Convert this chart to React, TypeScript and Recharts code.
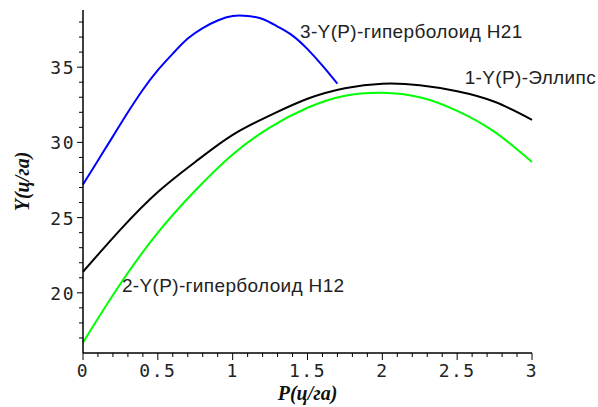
import { LineChart, Line, XAxis, YAxis, ReferenceDot } from "recharts";

const pFull = [0, 0.25, 0.5, 0.75, 1, 1.25, 1.5, 1.75, 2, 2.25, 2.5, 2.75, 3];
const pH21 = [0, 0.1, 0.2, 0.3, 0.4, 0.5, 0.6, 0.7, 0.8, 0.9, 1, 1.1, 1.2, 1.3, 1.4, 1.5, 1.6, 1.7];

// 1 - ellipse
const yEllipse = [21.4, 24.2, 26.7, 28.7, 30.5, 31.8, 32.9, 33.6, 33.9, 33.8, 33.4, 32.7, 31.5];
// 2 - hyperboloid H12
const yH12 = [16.7, 20.6, 24.0, 26.8, 29.2, 31.0, 32.3, 33.1, 33.3, 33.0, 32.1, 30.7, 28.7];
// 3 - hyperboloid H21
const yH21 = [27.2, 28.8, 30.4, 32.0, 33.5, 34.8, 35.9, 36.9, 37.6, 38.1, 38.4, 38.4, 38.2, 37.7, 37.1, 36.2, 35.1, 33.9];

const xTicks = [
  0, 0.1, 0.2, 0.3, 0.4, 0.5, 0.6, 0.7, 0.8, 0.9, 1, 1.1, 1.2, 1.3, 1.4, 1.5,
  1.6, 1.7, 1.8, 1.9, 2, 2.1, 2.2, 2.3, 2.4, 2.5, 2.6, 2.7, 2.8, 2.9, 3,
];
const xMajor = [0, 0.5, 1, 1.5, 2, 2.5, 3];
const yTicks = [17, 18, 19, 20, 21, 22, 23, 24, 25, 26, 27, 28, 29, 30, 31, 32, 33, 34, 35, 36, 37, 38];
const yMajor = [20, 25, 30, 35];

const curveLabels = [
  { text: "3-Y(P)-гиперболоид H21", p: 1.45, y: 37.4 },
  { text: "1-Y(P)-Эллипс", p: 2.55, y: 34.35 },
  { text: "2-Y(P)-гиперболоид H12", p: 0.26, y: 20.5 },
];

const ellipseData = pFull.map((p, i) => ({ p, y: yEllipse[i] }));
const h12Data = pFull.map((p, i) => ({ p, y: yH12[i] }));
const h21Data = pH21.map((p, i) => ({ p, y: yH21[i] }));

const tickFont = "'DejaVu Sans Mono', monospace";
const TICK = 4; // built-in tick line length (minor ticks)

const isMajor = (v: number, list: number[]) => list.some((m) => Math.abs(m - v) < 1e-6);

// x/y here come after the built-in tick line (TICK px outward)
function XTick(props: any) {
  const { x, y, payload } = props;
  if (!isMajor(payload.value, xMajor)) return <g />;
  return (
    <g>
      <path d={`M${x},${y}V${y + 3}`} stroke="#000" strokeWidth={1} fill="none" />
      <text
        x={x}
        y={y + 24 - TICK}
        textAnchor="middle"
        fontSize={18}
        fontFamily={tickFont}
        letterSpacing={1.5}
        fill="#222"
      >
        {payload.value}
      </text>
    </g>
  );
}

function YTick(props: any) {
  const { x, y, payload } = props;
  if (!isMajor(payload.value, yMajor)) return <g />;
  return (
    <g>
      <path d={`M${x - 2},${y}H${x}`} stroke="#000" strokeWidth={1} fill="none" />
      <text
        x={x - 8 + TICK}
        y={y + 7}
        textAnchor="end"
        fontSize={18}
        fontFamily={tickFont}
        letterSpacing={1.5}
        fill="#222"
      >
        {payload.value}
      </text>
    </g>
  );
}

export default function App() {
  return (
    <div style={{ position: "absolute", left: 0, top: 0, width: 598, height: 407, background: "#fff" }}>
      <LineChart width={598} height={407} margin={{ top: 10, right: 66, bottom: 0, left: 0 }}>
        <XAxis
          type="number"
          dataKey="p"
          domain={[0, 3]}
          ticks={xTicks}
          interval={0}
          tickSize={TICK}
          tickMargin={0}
          tickLine={{ stroke: "#000", strokeWidth: 1 }}
          tick={(p: any) => <XTick {...p} />}
          height={54}
          axisLine={{ stroke: "#000", strokeWidth: 1.5 }}
          label={{
            value: "P(ц/га)",
            position: "insideBottom",
            offset: 7,
            style: {
              fontFamily: "'Liberation Serif', serif",
              fontWeight: "bold",
              fontStyle: "italic",
              fontSize: 20,
              fill: "#111",
            },
          }}
        />
        <YAxis
          type="number"
          dataKey="y"
          domain={[16, 38.8]}
          ticks={yTicks}
          interval={0}
          tickSize={TICK}
          tickMargin={0}
          tickLine={{ stroke: "#000", strokeWidth: 1 }}
          tick={(p: any) => <YTick {...p} />}
          width={83}
          allowDataOverflow
          axisLine={{ stroke: "#000", strokeWidth: 1.5 }}
          label={{
            value: "Y(ц/га)",
            angle: -90,
            position: "insideLeft",
            offset: 22,
            style: {
              textAnchor: "middle",
              fontFamily: "'Liberation Serif', serif",
              fontWeight: "bold",
              fontStyle: "italic",
              fontSize: 20,
              fill: "#111",
            },
          }}
        />
        <Line
          data={h21Data}
          dataKey="y"
          type="natural"
          stroke="#0000ff"
          strokeWidth={2}
          dot={false}
          isAnimationActive={false}
        />
        <Line
          data={ellipseData}
          dataKey="y"
          type="natural"
          stroke="#000000"
          strokeWidth={2}
          dot={false}
          isAnimationActive={false}
        />
        <Line
          data={h12Data}
          dataKey="y"
          type="natural"
          stroke="#00ff00"
          strokeWidth={2}
          dot={false}
          isAnimationActive={false}
        />
        {curveLabels.map((l) => (
          <ReferenceDot
            key={l.text}
            x={l.p}
            y={l.y}
            r={0}
            fill="none"
            stroke="none"
            ifOverflow="visible"
            label={{
              value: l.text,
              position: "right",
              offset: 0,
              style: {
                fontFamily: "'Liberation Sans', Arial, sans-serif",
                fontSize: 19,
                letterSpacing: 0.35,
                fill: "#222",
              },
            }}
          />
        ))}
      </LineChart>
    </div>
  );
}
